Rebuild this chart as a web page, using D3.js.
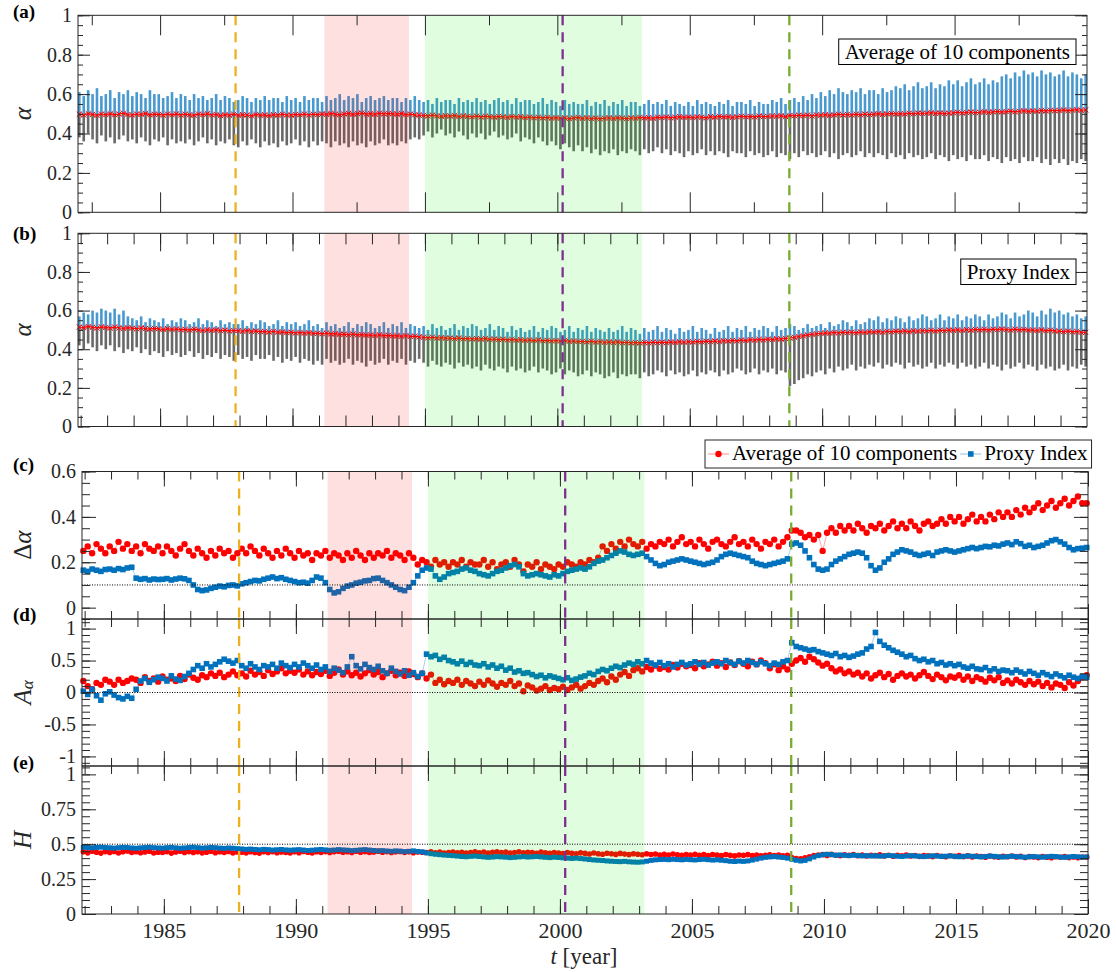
<!DOCTYPE html>
<html>
<head>
<meta charset="utf-8">
<script src="https://cdn.jsdelivr.net/npm/d3@7"></script>
<style>
  html, body { margin: 0; padding: 0; background: #fff; }
  svg { display: block; }
  svg text { font-family: "Liberation Serif", "Times New Roman", Times, serif; }
</style>
</head>
<body>
<svg id="fig" width="1116" height="972"></svg>
<script>
// Sampling grid: one estimate every two months from late 1981 to the end of 2019.
const START_YEAR = 1981.95;
const STEP_YEARS = 1 / 6;

// (a) alpha for the average of 10 components: mean with lower / upper spread
const aMean = [
  .498,.494,.501,.497,.492,.499, .496,.501,.495,.499,.503,.496, .494,.499,.497,.502,.495,.498,
  .497,.493,.499,.495,.500,.494, .498,.495,.492,.499,.496,.501, .494,.497,.491,.496,.493,.498,
  .492,.496,.494,.490,.497,.493, .495,.491,.496,.493,.498,.494, .493,.497,.495,.499,.494,.498,
  .496,.500,.497,.502,.498,.495, .499,.502,.497,.501,.504,.498, .501,.497,.503,.499,.502,.500,
  .498,.502,.496,.499,.495,.493, .492,.489,.494,.490,.487,.491, .488,.492,.486,.490,.487,.485,
  .489,.484,.488,.486,.483,.487, .485,.482,.487,.483,.486,.481, .484,.480,.483,.479,.482,.478,
  .481,.477,.480,.476,.479,.482, .477,.480,.476,.479,.475,.478, .480,.477,.481,.478,.476,.480,
  .478,.482,.479,.481,.477,.483, .481,.484,.480,.483,.486,.482, .484,.481,.485,.483,.480,.486,
  .483,.487,.484,.486,.482,.485, .488,.485,.487,.484,.489,.486, .487,.490,.488,.491,.486,.492,
  .490,.493,.491,.494,.489,.495, .493,.496,.492,.495,.498,.494, .497,.494,.498,.495,.499,.496,
  .498,.501,.497,.500,.502,.499, .501,.499,.503,.500,.504,.502, .503,.506,.502,.505,.501,.504,
  .505,.508,.504,.507,.509,.506, .508,.511,.507,.510,.512,.509, .511,.514,.510,.513,.516,.512,
  .515,.513,.517,.514,.518,.516, .517,.520,.516,.519,.521,.518, .520
];
const aLow = [
  .38,.36,.40,.37,.35,.39, .36,.38,.35,.37,.39,.36, .37,.35,.38,.36,.34,.37,
  .36,.38,.34,.37,.35,.36, .35,.37,.34,.36,.38,.35, .37,.34,.36,.35,.37,.34,
  .33,.36,.34,.37,.35,.33, .36,.34,.35,.33,.36,.34, .35,.37,.34,.36,.33,.36,
  .34,.36,.35,.33,.36,.34, .35,.33,.36,.34,.35,.33, .36,.34,.35,.37,.34,.35,
  .34,.36,.35,.37,.38,.37, .39,.41,.38,.40,.42,.39, .40,.38,.41,.39,.37,.40,
  .38,.40,.37,.39,.41,.38, .39,.37,.38,.40,.36,.38, .37,.35,.38,.36,.34,.36,
  .34,.32,.35,.33,.31,.34, .31,.33,.30,.32,.29,.31, .30,.32,.29,.31,.30,.32,
  .31,.29,.32,.30,.31,.33, .30,.32,.29,.31,.30,.28, .31,.29,.30,.32,.29,.31,
  .29,.31,.30,.28,.31,.30, .30,.28,.31,.29,.30,.28, .29,.31,.28,.30,.29,.27,
  .30,.28,.31,.29,.30,.28, .29,.31,.28,.30,.27,.29, .30,.28,.29,.31,.28,.30,
  .28,.30,.29,.27,.30,.28, .29,.27,.30,.28,.29,.27, .28,.30,.27,.29,.28,.26,
  .29,.27,.28,.26,.29,.27, .27,.29,.26,.28,.27,.25, .28,.26,.27,.25,.28,.26,
  .26,.28,.25,.27,.24,.27, .25,.27,.24,.26,.25,.27, .26
];
const aHigh = [
  .61,.59,.62,.60,.63,.59, .60,.62,.58,.61,.60,.62, .59,.61,.60,.58,.62,.60,
  .60,.58,.59,.61,.58,.60, .59,.57,.60,.58,.59,.57, .58,.60,.57,.59,.58,.56,
  .57,.59,.58,.56,.58,.57, .59,.57,.58,.58,.56,.59, .57,.58,.56,.59,.57,.58,
  .58,.56,.59,.57,.58,.60, .57,.59,.58,.60,.56,.58, .59,.57,.58,.59,.57,.58,
  .58,.56,.58,.57,.59,.57, .56,.57,.55,.58,.56,.57, .57,.55,.58,.56,.57,.56,
  .58,.56,.57,.55,.57,.58, .56,.57,.55,.58,.56,.57, .57,.55,.56,.58,.55,.57,
  .56,.54,.57,.55,.56,.55, .55,.57,.54,.56,.55,.57, .54,.56,.55,.57,.54,.56,
  .56,.54,.55,.57,.55,.56, .55,.57,.54,.56,.55,.54, .56,.54,.57,.55,.56,.55,
  .54,.56,.55,.57,.54,.56, .56,.55,.57,.54,.56,.55, .55,.57,.56,.58,.55,.57,
  .58,.56,.59,.57,.60,.58, .61,.59,.62,.60,.63,.61, .60,.62,.61,.63,.60,.62,
  .62,.60,.63,.61,.62,.64, .63,.65,.62,.64,.66,.63, .64,.66,.63,.65,.64,.67,
  .65,.67,.64,.66,.68,.65, .66,.68,.65,.67,.66,.69, .70,.68,.71,.69,.72,.70,
  .71,.69,.72,.70,.71,.69, .70,.72,.69,.71,.70,.68, .70
];

// (b) alpha for the proxy index: mean with lower / upper spread
const bMean = [
  .515,.512,.518,.514,.510,.516, .513,.509,.515,.511,.508,.512, .509,.506,.511,.507,.504,.508,
  .506,.502,.507,.503,.505,.501, .503,.499,.504,.500,.497,.501, .498,.501,.496,.499,.495,.497,
  .496,.493,.497,.492,.495,.491, .492,.489,.493,.488,.490,.486, .488,.484,.487,.483,.486,.482,
  .483,.480,.484,.479,.481,.477, .478,.475,.479,.474,.476,.473, .474,.471,.475,.470,.472,.469,
  .470,.467,.471,.466,.468,.464, .462,.459,.463,.458,.460,.457, .458,.455,.459,.454,.456,.453,
  .455,.452,.456,.451,.453,.450, .452,.448,.451,.447,.450,.446, .448,.445,.449,.444,.446,.443,
  .445,.442,.446,.441,.443,.440, .441,.438,.442,.437,.440,.436, .438,.435,.439,.434,.436,.433,
  .435,.432,.436,.433,.437,.434, .437,.434,.438,.435,.439,.436, .440,.437,.441,.438,.442,.439,
  .443,.440,.445,.442,.446,.443, .448,.445,.450,.447,.451,.448, .453,.450,.455,.452,.456,.458,
  .462,.466,.470,.474,.477,.480, .482,.485,.483,.487,.484,.488, .486,.489,.485,.490,.487,.491,
  .489,.492,.488,.493,.490,.494, .492,.495,.491,.496,.493,.497, .495,.498,.494,.499,.496,.500,
  .498,.501,.497,.502,.499,.503, .500,.503,.499,.504,.501,.505, .502,.499,.504,.500,.503,.499,
  .500,.497,.501,.496,.499,.495, .494,.491,.495,.490,.492,.488, .487
];
const bLow = [
  .42,.40,.43,.41,.39,.42, .40,.42,.39,.41,.38,.40, .39,.41,.38,.40,.37,.39,
  .38,.36,.39,.37,.38,.36, .37,.39,.36,.38,.35,.37, .36,.38,.35,.37,.36,.34,
  .37,.35,.36,.34,.37,.35, .35,.37,.34,.36,.33,.35, .34,.36,.33,.35,.34,.32,
  .34,.32,.35,.33,.34,.32, .33,.35,.32,.34,.33,.31, .34,.32,.33,.35,.32,.34,
  .33,.35,.32,.34,.33,.35, .33,.31,.34,.32,.31,.33, .32,.30,.33,.31,.32,.30,
  .31,.29,.32,.30,.29,.31, .30,.28,.31,.29,.30,.28, .29,.31,.28,.30,.29,.27,
  .28,.30,.27,.29,.28,.26, .27,.29,.26,.28,.27,.25, .26,.28,.25,.27,.26,.27,
  .27,.25,.28,.26,.27,.29, .28,.26,.29,.27,.28,.26, .27,.29,.26,.28,.27,.29,
  .28,.26,.29,.27,.28,.30, .29,.27,.28,.30,.27,.29, .28,.30,.27,.29,.28,.21,
  .22,.24,.25,.27,.26,.28, .29,.27,.30,.28,.31,.29, .30,.32,.29,.31,.30,.32,
  .31,.33,.30,.32,.31,.33, .32,.30,.33,.31,.32,.30, .31,.33,.30,.32,.31,.33,
  .32,.30,.33,.31,.32,.30, .31,.33,.30,.32,.31,.29, .32,.30,.31,.33,.30,.32,
  .31,.29,.32,.30,.31,.29, .30,.32,.29,.31,.30,.32, .31
];
const bHigh = [
  .57,.59,.58,.60,.59,.61, .60,.59,.61,.58,.60,.57, .56,.55,.57,.54,.56,.55,
  .54,.56,.53,.55,.54,.56, .55,.53,.54,.56,.53,.55, .54,.52,.55,.53,.54,.53,
  .53,.55,.52,.54,.53,.55, .54,.52,.53,.55,.52,.54, .53,.54,.52,.53,.55,.52,
  .53,.51,.54,.52,.53,.51, .52,.54,.51,.53,.52,.54, .53,.51,.52,.54,.51,.53,
  .52,.54,.51,.53,.52,.51, .52,.50,.53,.51,.52,.50, .51,.53,.50,.52,.51,.53,
  .52,.50,.51,.53,.50,.52, .51,.49,.52,.50,.51,.49, .50,.52,.49,.51,.50,.52,
  .51,.49,.50,.52,.49,.51, .50,.52,.49,.51,.50,.49, .51,.49,.50,.52,.49,.51,
  .50,.48,.51,.49,.50,.52, .49,.51,.50,.48,.51,.49, .50,.52,.49,.51,.50,.48,
  .51,.49,.50,.52,.49,.51, .50,.52,.49,.51,.50,.52, .51,.49,.52,.50,.51,.53,
  .52,.50,.51,.53,.51,.52, .53,.51,.54,.52,.53,.55, .54,.52,.55,.53,.54,.56,
  .55,.57,.54,.56,.55,.57, .56,.54,.57,.55,.56,.58, .57,.55,.56,.58,.55,.57,
  .56,.58,.55,.57,.56,.58, .57,.55,.58,.56,.57,.59, .58,.56,.59,.57,.58,.60,
  .59,.57,.60,.58,.61,.59, .60,.58,.59,.57,.58,.56, .57
];

// (c) width of the multifractal spectrum, delta alpha
const cAvg = [
  .25,.27,.24,.28,.26,.24, .27,.25,.29,.26,.28,.25, .27,.24,.28,.26,.25,.27,
  .24,.27,.25,.23,.26,.28, .25,.23,.26,.24,.22,.25, .23,.26,.24,.25,.22,.24,
  .26,.24,.27,.25,.23,.26, .24,.22,.25,.23,.26,.24, .22,.25,.23,.24,.21,.24,
  .23,.25,.22,.24,.23,.21, .24,.22,.25,.23,.21,.24, .22,.24,.23,.25,.22,.24,
  .23,.21,.24,.22,.19,.21, .20,.18,.21,.19,.20,.18, .20,.19,.21,.18,.20,.19,
  .19,.21,.18,.20,.17,.19, .20,.18,.21,.19,.16,.19, .18,.20,.17,.19,.18,.17,
  .19,.18,.20,.19,.18,.20, .19,.21,.20,.22,.27,.25, .28,.26,.29,.27,.30,.28,
  .27,.29,.26,.28,.27,.29, .28,.30,.27,.29,.31,.28, .29,.27,.30,.28,.26,.29,
  .30,.28,.27,.29,.31,.28, .29,.27,.30,.28,.26,.29, .28,.30,.27,.29,.31,.34,
  .34,.33,.31,.32,.30,.32, .25,.33,.35,.33,.36,.34, .36,.34,.37,.35,.33,.36,
  .35,.37,.34,.36,.38,.35, .37,.35,.38,.36,.34,.37, .38,.36,.37,.39,.37,.40,
  .38,.40,.37,.39,.41,.38, .40,.38,.41,.39,.42,.40, .42,.40,.43,.41,.44,.42,
  .44,.46,.43,.45,.47,.44, .46,.48,.45,.47,.49,.46, .46
];
const cProxy = [
  .165,.160,.170,.165,.160,.168, .170,.165,.172,.168,.175,.178, .130,.125,.128,.122,.126,.124,
  .125,.128,.122,.126,.130,.127, .120,.100,.080,.075,.078,.085, .090,.095,.092,.098,.100,.096,
  .105,.110,.115,.120,.118,.125, .130,.135,.128,.132,.125,.120, .115,.110,.112,.108,.120,.135,
  .130,.110,.080,.065,.070,.085, .095,.100,.108,.112,.118,.120, .128,.130,.120,.110,.100,.090,
  .080,.075,.090,.110,.140,.165, .175,.170,.140,.125,.135,.150, .155,.160,.170,.175,.165,.160,
  .150,.145,.140,.150,.160,.165, .175,.185,.190,.180,.150,.140, .145,.150,.145,.140,.135,.145,
  .140,.150,.160,.165,.170,.175, .170,.180,.195,.205,.210,.220, .230,.240,.250,.245,.235,.230,
  .235,.240,.225,.210,.195,.185, .190,.200,.205,.210,.215,.210, .205,.200,.195,.190,.195,.200,
  .210,.225,.235,.240,.235,.230, .225,.220,.205,.195,.190,.185, .190,.195,.200,.205,.215,.280,
  .285,.275,.250,.220,.190,.170, .165,.170,.190,.205,.215,.225, .235,.240,.245,.240,.220,.185,
  .165,.175,.200,.215,.235,.245, .255,.250,.245,.235,.230,.235, .240,.230,.245,.250,.255,.250,
  .245,.250,.255,.260,.265,.260, .265,.270,.268,.275,.272,.280, .285,.278,.290,.282,.270,.275,
  .265,.270,.275,.285,.295,.300, .290,.280,.265,.255,.260,.262, .265
];

// (d) asymmetry of the spectrum, A_alpha
const dAvg = [
  .18,.10,.05,.15,.12,.20, .17,.12,.20,.15,.18,.22, .20,.15,.24,.18,.22,.17,
  .25,.20,.22,.18,.26,.21, .28,.23,.20,.27,.24,.30, .26,.31,.24,.28,.33,.27,
  .30,.25,.34,.28,.32,.26, .35,.29,.33,.38,.30,.34, .31,.36,.28,.33,.27,.32,
  .29,.34,.26,.31,.36,.28, .33,.27,.31,.25,.30,.35, .28,.32,.24,.30,.34,.27,
  .31,.26,.33,.29,.24,.30, .22,.28,.15,.20,.13,.18, .15,.20,.12,.18,.14,.10,
  .17,.12,.19,.14,.09,.15, .12,.18,.10,.14,.02,.11, .08,.03,.06,.10,.04,.07,
  .05,.09,.04,.08,.12,.06, .10,.15,.12,.18,.22,.16, .25,.20,.28,.32,.26,.35,
  .38,.33,.40,.36,.42,.37, .40,.36,.43,.39,.45,.41, .43,.38,.46,.41,.44,.48,
  .42,.46,.40,.47,.43,.49, .45,.41,.48,.44,.50,.46, .38,.44,.35,.41,.36,.45,
  .50,.54,.48,.56,.52,.47, .42,.45,.38,.33,.36,.30, .33,.28,.31,.25,.30,.22,
  .27,.31,.24,.29,.20,.26, .30,.25,.28,.22,.27,.32, .26,.21,.28,.24,.19,.25,
  .23,.27,.20,.25,.18,.24, .21,.17,.23,.19,.24,.15, .19,.14,.20,.16,.12,.18,
  .13,.17,.10,.15,.08,.14, .12,.07,.16,.11,.18,.24, .27
];
const dProxy = [
  .02,-.03,.05,-.05,-.12,-.02, .01,-.04,-.08,-.10,-.06,-.09, .05,.18,.22,.16,.20,.24,
  .22,.18,.26,.21,.19,.25, .30,.36,.42,.38,.45,.40, .44,.48,.52,.49,.46,.50,
  .42,.38,.45,.40,.36,.42, .40,.44,.38,.46,.42,.39, .44,.40,.46,.42,.38,.43,
  .36,.40,.33,.38,.35,.31, .40,.56,.42,.37,.44,.39, .36,.41,.34,.30,.38,.33,
  .29,.34,.27,.31,.25,.30, .60,.56,.58,.52,.55,.50, .48,.45,.49,.44,.47,.43,
  .42,.45,.40,.43,.38,.41, .35,.38,.32,.34,.30,.31, .28,.25,.27,.23,.26,.24,
  .22,.20,.23,.19,.21,.24, .26,.30,.28,.33,.36,.34, .38,.41,.39,.43,.46,.44,
  .48,.45,.50,.46,.43,.47, .42,.45,.40,.44,.47,.43, .45,.48,.44,.47,.43,.46,
  .48,.45,.50,.47,.44,.49, .46,.50,.47,.44,.48,.45, .42,.46,.44,.48,.50,.78,
  .72,.70,.68,.66,.67,.64, .62,.60,.58,.61,.56,.58, .55,.57,.60,.62,.68,.72,
  .94,.80,.74,.70,.66,.63, .60,.56,.58,.53,.50,.52, .48,.50,.45,.47,.43,.45,
  .42,.44,.40,.38,.41,.37, .36,.39,.34,.37,.33,.35, .34,.31,.35,.32,.29,.33,
  .30,.27,.31,.28,.25,.29, .26,.23,.27,.24,.22,.25, .24
];

// (e) Hurst exponent H
const eAvg = [
  .445,.438,.450,.442,.436,.447, .440,.448,.437,.445,.451,.441, .446,.439,.444,.450,.437,.443,
  .441,.447,.436,.444,.449,.440, .447,.440,.445,.438,.443,.450, .439,.446,.441,.448,.437,.444,
  .443,.438,.446,.440,.436,.445, .440,.447,.439,.444,.441,.437, .445,.439,.448,.442,.437,.446,
  .441,.447,.440,.445,.450,.443, .446,.440,.449,.443,.447,.441, .444,.450,.442,.447,.440,.446,
  .448,.441,.445,.439,.444,.442, .440,.445,.438,.443,.436,.441, .444,.438,.442,.436,.441,.445,
  .439,.444,.437,.442,.446,.440, .443,.437,.441,.445,.438,.442, .440,.435,.443,.438,.434,.441,
  .437,.433,.440,.435,.431,.438, .434,.430,.437,.432,.428,.435, .431,.427,.434,.429,.425,.432,
  .428,.424,.431,.426,.430,.423, .427,.422,.429,.424,.420,.426, .423,.428,.421,.425,.419,.426,
  .422,.418,.425,.420,.416,.423, .420,.425,.418,.423,.417,.421, .424,.419,.422,.417,.421,.405,
  .398,.395,.402,.410,.418,.422, .425,.419,.427,.421,.417,.424, .420,.426,.418,.423,.415,.421,
  .418,.424,.416,.421,.414,.420, .417,.422,.415,.419,.413,.418, .416,.411,.419,.414,.410,.417,
  .413,.418,.411,.416,.409,.415, .412,.407,.415,.410,.406,.413, .410,.415,.408,.413,.405,.411,
  .409,.404,.412,.407,.403,.410, .406,.411,.404,.409,.402,.408, .406
];
const eProxy = [
  .478,.476,.474,.477,.479,.476, .474,.472,.475,.477,.476,.473, .471,.474,.476,.478,.475,.473,
  .472,.475,.477,.474,.471,.473, .476,.478,.475,.472,.474,.477, .475,.472,.470,.473,.471,.468,
  .466,.463,.465,.462,.460,.463, .461,.458,.460,.462,.459,.457, .459,.461,.458,.455,.457,.460,
  .462,.459,.456,.458,.461,.459, .457,.454,.456,.459,.461,.458, .455,.452,.454,.451,.449,.452,
  .450,.447,.449,.452,.448,.445, .438,.432,.428,.425,.422,.420, .418,.415,.412,.410,.413,.415,
  .412,.409,.406,.408,.411,.409, .407,.404,.406,.409,.411,.408, .410,.412,.409,.406,.404,.407,
  .405,.402,.400,.398,.400,.397, .394,.390,.387,.385,.383,.380, .378,.376,.375,.377,.374,.372,
  .371,.373,.378,.384,.388,.390, .391,.389,.392,.390,.388,.391, .389,.387,.390,.392,.389,.386,
  .388,.385,.382,.378,.376,.379, .377,.380,.386,.393,.400,.406, .409,.411,.408,.405,.400,.392,
  .385,.380,.384,.395,.408,.418, .424,.428,.425,.421,.423,.420, .418,.421,.419,.416,.418,.415,
  .417,.414,.416,.419,.417,.414, .412,.415,.418,.416,.413,.411, .414,.417,.415,.412,.414,.416,
  .413,.410,.413,.416,.414,.411, .409,.412,.415,.413,.410,.408, .411,.414,.412,.409,.407,.410,
  .412,.409,.407,.410,.413,.411, .408,.406,.409,.412,.410,.407, .409
];

// Marked events (dashed lines) and highlighted periods (shaded bands), in years
const eventYears = [1987.85, 2000.2, 2008.76];
const periodStart = [1991.2, 1995.0];
const periodEnd = [1994.4, 2003.2];

const seriesNames = ["Average of 10 components", "Proxy Index"];
const panelTags = ["(a)", "(b)", "(c)", "(d)", "(e)"];
const xTickYears = [1985, 1990, 1995, 2000, 2005, 2010, 2015, 2020];

// ---------------------------------------------------------------- styling
const FONT = '"Liberation Serif", "Times New Roman", Times, serif';
const INK = "#262626";
const RED = "#ff0000";
const BLUE = "#0072bd";
const EVENT_COLORS = ["#edb120", "#7e2f8e", "#77ac30"];
const PERIOD_FILLS = ["rgba(255,0,0,0.12)", "rgba(0,235,0,0.12)"];

const times = aMean.map((_, i) => START_YEAR + i * STEP_YEARS);
const svg = d3.select("#fig");

// ---------------------------------------------------------------- layout
const X_DOMAIN = [1981.9, 2020];
const xUpper = d3.scaleLinear().domain(X_DOMAIN).range([78, 1087]);
const xLower = d3.scaleLinear().domain(X_DOMAIN).range([82, 1088]);

const fmt = d => String(+d.toFixed(2));
const steps = (a, b, s) => d3.range(Math.round((b - a) / s) + 1).map(k => +(a + k * s).toFixed(3));

const panels = [
  { tag: 0, x: xUpper, y: d3.scaleLinear().domain([0, 1]).range([212.3, 15.3]),
    yMajor: steps(0, 1, 0.2), yMinor: steps(0, 1, 0.05), yLab: "alpha",
    xMajor: [1985, 1990, 1995, 2000, 2005, 2010, 2015],
    xMinor: [1982.42, 1987.42, 1992.42, 1997.42, 2002.42, 2007.42, 2012.42, 2017.42],
    xMajLen: 20, xMinLen: 10, yMajLen: 12, yMinLen: 5, tagY: 18 },
  { tag: 1, x: xUpper, y: d3.scaleLinear().domain([0, 1]).range([426.5, 233.3]),
    yMajor: steps(0, 1, 0.2), yMinor: steps(0, 1, 0.05), yLab: "alpha",
    xMajor: [1985, 1990, 1995, 2000, 2005, 2010, 2015], xMinor: d3.range(1982, 2020),
    xMajLen: 18, xMinLen: 11, yMajLen: 12, yMinLen: 5, tagY: 240 },
  { tag: 2, x: xLower, y: d3.scaleLinear().domain([-0.05, 0.6]).range([619, 471.5]),
    yMajor: [0, 0.2, 0.4, 0.6], yMinor: steps(-0.05, 0.6, 0.05), yLab: "dalpha", ref: 0.1,
    xMajor: xTickYears, xMinor: d3.range(1982, 2020),
    xMajLen: 15, xMinLen: 8, yMajLen: 14, yMinLen: 8, tagY: 471 },
  { tag: 3, x: xLower, y: d3.scaleLinear().domain([-1.15, 1.15]).range([766, 619]),
    yMajor: [-1, -0.5, 0, 0.5, 1], yMinor: steps(-1.1, 1.1, 0.1), yLab: "A", ref: 0,
    xMajor: xTickYears, xMinor: d3.range(1982, 2020),
    xMajLen: 15, xMinLen: 8, yMajLen: 14, yMinLen: 8, tagY: 621 },
  { tag: 4, x: xLower, y: d3.scaleLinear().domain([0, 1.06]).range([914, 766]),
    yMajor: [0, 0.25, 0.5, 0.75, 1], yMinor: steps(0, 1.05, 0.05), yLab: "H", ref: 0.5,
    xMajor: xTickYears, xMinor: d3.range(1982, 2020),
    xMajLen: 15, xMinLen: 8, yMajLen: 14, yMinLen: 8, tagY: 769, xLabels: true }
];

// ---------------------------------------------------------------- marks
const dataLayer = svg.append("g");
const shadeLayer = svg.append("g");
const eventLayer = svg.append("g");
const axisLayer = svg.append("g");
const textLayer = svg.append("g").attr("font-family", FONT).attr("fill", INK);

const BAR_W = 2.6;
function spreadBars(p, mean, low, high) {
  const g = dataLayer.append("g");
  const idx = d3.range(mean.length);
  g.selectAll(null).data(idx).join("rect")
    .attr("x", i => p.x(times[i]) - BAR_W / 2).attr("width", BAR_W)
    .attr("y", i => p.y(high[i])).attr("height", i => p.y(mean[i]) - p.y(high[i]))
    .attr("fill", BLUE).attr("fill-opacity", 0.72);
  g.selectAll(null).data(idx).join("rect")
    .attr("x", i => p.x(times[i]) - BAR_W / 2).attr("width", BAR_W)
    .attr("y", i => p.y(mean[i])).attr("height", i => p.y(low[i]) - p.y(mean[i]))
    .attr("fill", "#1c1c1c").attr("fill-opacity", 0.66);
  g.append("path")
    .attr("d", d3.line().x((d, i) => p.x(times[i])).y(d => p.y(d))(mean))
    .attr("fill", "none").attr("stroke", RED).attr("stroke-width", 1.2);
  g.selectAll(null).data(idx).join("path")
    .attr("transform", i => `translate(${p.x(times[i])},${p.y(mean[i])})`)
    .attr("d", "M-2.6,-2.6L2.6,2.6M-2.6,2.6L2.6,-2.6")
    .attr("stroke", RED).attr("stroke-width", 1);
}

function dotSeries(p, values, color, shape, size) {
  const g = dataLayer.append("g");
  g.append("path")
    .attr("d", d3.line().x((d, i) => p.x(times[i])).y(d => p.y(d))(values))
    .attr("fill", "none").attr("stroke", color).attr("stroke-opacity", 0.35).attr("stroke-width", 1);
  if (shape === "circle") {
    g.selectAll(null).data(values).join("circle")
      .attr("cx", (d, i) => p.x(times[i])).attr("cy", d => p.y(d)).attr("r", size)
      .attr("fill", color);
  } else {
    g.selectAll(null).data(values).join("rect")
      .attr("x", (d, i) => p.x(times[i]) - size / 2).attr("y", d => p.y(d) - size / 2)
      .attr("width", size).attr("height", size).attr("fill", color);
  }
}

spreadBars(panels[0], aMean, aLow, aHigh);
spreadBars(panels[1], bMean, bLow, bHigh);
dotSeries(panels[2], cAvg, RED, "circle", 3.2);
dotSeries(panels[2], cProxy, BLUE, "square", 5.6);
dotSeries(panels[3], dAvg, RED, "circle", 3.2);
dotSeries(panels[3], dProxy, BLUE, "square", 5.6);
dotSeries(panels[4], eAvg, RED, "circle", 2.8);
dotSeries(panels[4], eProxy, BLUE, "square", 5.0);

// shaded periods and dashed event markers
panels.forEach(p => {
  const [yb, yt] = p.y.range();
  periodStart.forEach((s, k) => {
    shadeLayer.append("rect")
      .attr("x", p.x(s)).attr("width", p.x(periodEnd[k]) - p.x(s))
      .attr("y", yt).attr("height", yb - yt).attr("fill", PERIOD_FILLS[k]);
  });
  eventYears.forEach((ev, k) => {
    eventLayer.append("line")
      .attr("x1", p.x(ev)).attr("x2", p.x(ev)).attr("y1", yt).attr("y2", yb)
      .attr("stroke", EVENT_COLORS[k]).attr("stroke-width", 2.3).attr("stroke-dasharray", "10,7");
  });
  if (p.ref !== undefined) {
    eventLayer.append("line")
      .attr("x1", p.x.range()[0]).attr("x2", p.x.range()[1])
      .attr("y1", p.y(p.ref)).attr("y2", p.y(p.ref))
      .attr("stroke", "#000").attr("stroke-width", 1).attr("stroke-dasharray", "1,1.5");
  }
});

// ---------------------------------------------------------------- axes
function axisGroup(transform, axis, fontSize) {
  const g = axisLayer.append("g").attr("transform", transform).call(axis);
  g.select(".domain").remove();
  g.attr("font-family", FONT).attr("font-size", fontSize || 20).attr("color", INK);
  return g;
}

panels.forEach(p => {
  const [x0, x1] = p.x.range();
  const [yb, yt] = p.y.range();
  // left (labelled) and right y ticks
  axisGroup(`translate(${x0},0)`, d3.axisLeft(p.y).tickValues(p.yMajor).tickSize(-p.yMajLen).tickPadding(6).tickFormat(fmt), 20);
  axisGroup(`translate(${x0},0)`, d3.axisLeft(p.y).tickValues(p.yMinor).tickSize(-p.yMinLen).tickFormat(""));
  axisGroup(`translate(${x1},0)`, d3.axisRight(p.y).tickValues(p.yMajor).tickSize(-p.yMajLen).tickFormat(""));
  axisGroup(`translate(${x1},0)`, d3.axisRight(p.y).tickValues(p.yMinor).tickSize(-p.yMinLen).tickFormat(""));
  // bottom and top x ticks
  axisGroup(`translate(0,${yb})`, d3.axisBottom(p.x).tickValues(p.xMajor).tickSize(-p.xMajLen).tickPadding(8)
    .tickFormat(p.xLabels ? d3.format("d") : ""), 22);
  axisGroup(`translate(0,${yb})`, d3.axisBottom(p.x).tickValues(p.xMinor).tickSize(-p.xMinLen).tickFormat(""));
  axisGroup(`translate(0,${yt})`, d3.axisTop(p.x).tickValues(p.xMajor).tickSize(-p.xMajLen).tickFormat(""));
  axisGroup(`translate(0,${yt})`, d3.axisTop(p.x).tickValues(p.xMinor).tickSize(-p.xMinLen).tickFormat(""));
  // frame
  axisLayer.append("rect").attr("x", x0).attr("y", yt).attr("width", x1 - x0).attr("height", yb - yt)
    .attr("fill", "none").attr("stroke", INK).attr("stroke-width", 1);

  // panel tag
  textLayer.append("text").attr("x", 13).attr("y", p.tagY)
    .attr("font-size", 19).attr("font-weight", "bold").attr("fill", "#000").text(panelTags[p.tag]);

  // y axis title, rotated
  const ty = textLayer.append("text")
    .attr("transform", `translate(22,${(yb + yt) / 2}) rotate(-90)`)
    .attr("text-anchor", "middle").attr("dominant-baseline", "central")
    .attr("font-size", 25).attr("font-style", "italic");
  if (p.yLab === "alpha") ty.text("\u03b1");
  else if (p.yLab === "dalpha") { ty.append("tspan").attr("font-style", "normal").text("\u0394"); ty.append("tspan").text("\u03b1"); }
  else if (p.yLab === "A") { ty.append("tspan").text("A"); ty.append("tspan").attr("font-size", 17).attr("dy", 5).text("\u03b1"); }
  else ty.text("H");
});

// x axis title
const xt = textLayer.append("text").attr("x", 584).attr("y", 964).attr("text-anchor", "middle").attr("font-size", 23);
xt.append("tspan").attr("font-style", "italic").text("t");
xt.append("tspan").text(" [year]");

// ---------------------------------------------------------------- boxed titles in (a) and (b)
function boxedTitle(p, label, top) {
  const right = p.x.range()[1] - 11;
  const g = textLayer.append("g");
  const r = g.append("rect").attr("y", top).attr("height", 25.5)
    .attr("fill", "#fff").attr("stroke", "#000").attr("stroke-width", 1);
  const t = g.append("text").attr("y", top + 20).attr("font-size", 21).attr("fill", "#000").text(label);
  const w = t.node().getComputedTextLength();
  r.attr("x", right - w - 12).attr("width", w + 12);
  t.attr("x", right - w - 6);
}
boxedTitle(panels[0], seriesNames[0], 39);
boxedTitle(panels[1], seriesNames[1], 259);

// ---------------------------------------------------------------- legend above (c)
(function legend() {
  const g = textLayer.append("g");
  const left = 705, top = 440, h = 28;
  const box = g.append("rect").attr("x", left).attr("y", top).attr("height", h)
    .attr("fill", "#fff").attr("stroke", INK).attr("stroke-width", 1);
  let cx = left + 3;
  const cy = top + h / 2;
  [{ c: RED, s: "circle" }, { c: BLUE, s: "square" }].forEach((it, k) => {
    g.append("line").attr("x1", cx).attr("x2", cx + 21).attr("y1", cy).attr("y2", cy)
      .attr("stroke", it.c).attr("stroke-opacity", 0.45).attr("stroke-width", 1);
    if (it.s === "circle") g.append("circle").attr("cx", cx + 10.5).attr("cy", cy).attr("r", 3.2).attr("fill", it.c);
    else g.append("rect").attr("x", cx + 10.5 - 2.8).attr("y", cy - 2.8).attr("width", 5.6).attr("height", 5.6).attr("fill", it.c);
    const t = g.append("text").attr("x", cx + 24).attr("y", top + 20).attr("font-size", 21).attr("fill", "#000").text(seriesNames[k]);
    cx += 24 + t.node().getComputedTextLength() + 3;
  });
  box.attr("width", cx - left + 1);
})();
</script>
</body>
</html>
